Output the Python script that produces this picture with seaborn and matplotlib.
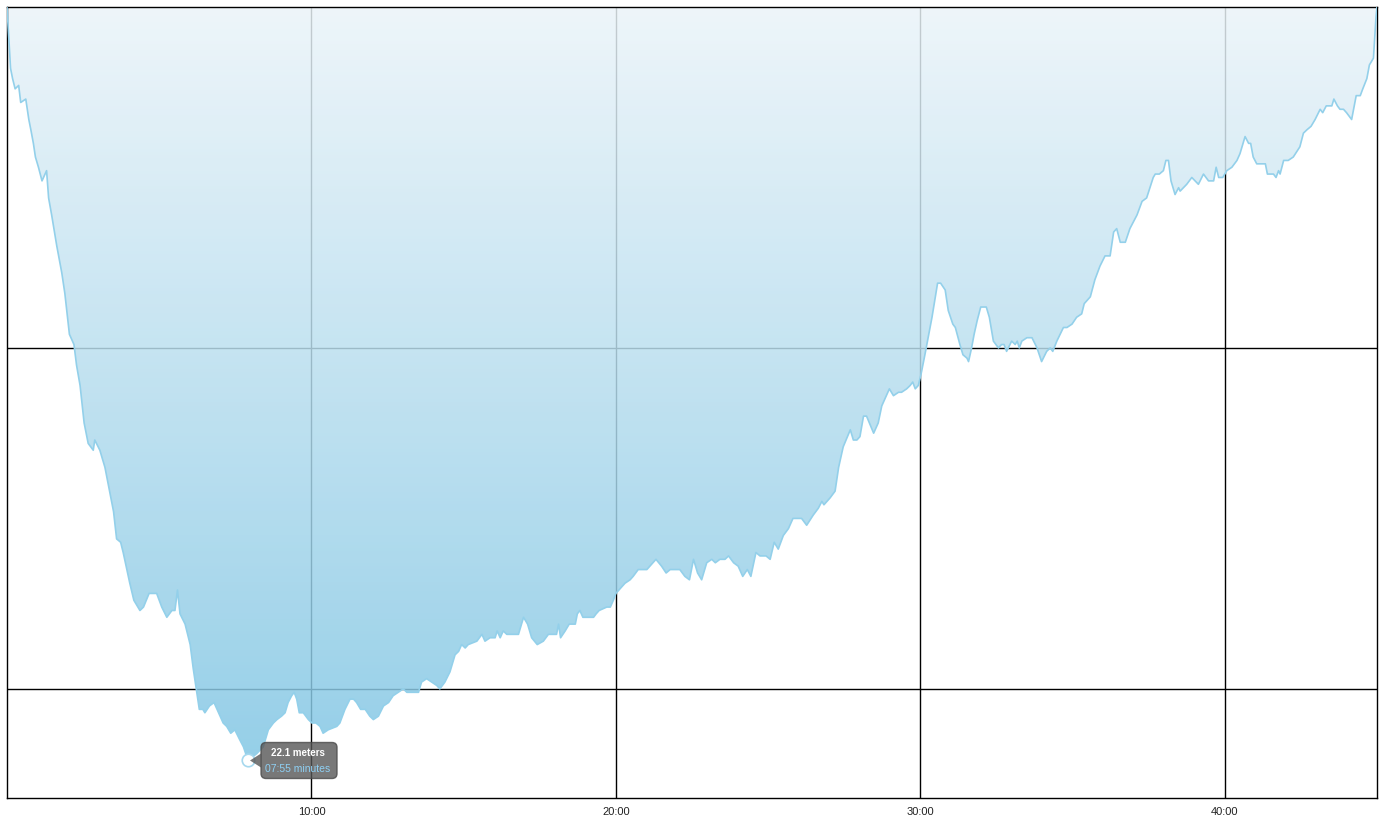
import numpy as np
import pandas as pd
import matplotlib
matplotlib.use("Agg")
import matplotlib.pyplot as plt
import seaborn as sns
from matplotlib.colors import LinearSegmentedColormap
from matplotlib.patches import FancyBboxPatch, Polygon
from matplotlib.ticker import FuncFormatter
from matplotlib.transforms import IdentityTransform

# dive profile: elapsed time (s) and depth (m)
time_s = [
    0, 7, 11, 16, 23, 27, 37, 43, 47, 52,
    56, 62, 69, 78, 82, 88, 98, 108, 114, 123,
    132, 137, 144, 152, 160, 170, 173, 183, 193, 210,
    216, 224, 229, 242, 250, 262, 269, 280, 288, 295,
    305, 315, 325, 331, 336, 341, 351, 361, 367, 374,
    379, 386, 390, 399, 408, 414, 426, 433, 441, 449,
    459, 466, 475, 492, 505, 515, 525, 532, 541, 548,
    554, 561, 566, 571, 576, 584, 594, 601, 609, 617,
    623, 633, 650, 656, 666, 676, 683, 689, 697, 706,
    715, 722, 732, 742, 752, 761, 771, 781, 788, 801,
    811, 817, 827, 837, 847, 853, 863, 873, 883, 890,
    896, 903, 909, 926, 936, 942, 952, 962, 966, 972,
    978, 985, 1008, 1018, 1026, 1034, 1045, 1057, 1067, 1083,
    1087, 1091, 1100, 1108, 1120, 1124, 1129, 1135, 1156, 1161,
    1167, 1182, 1189, 1195, 1200, 1212, 1218, 1228, 1234, 1244,
    1261, 1267, 1279, 1290, 1299, 1307, 1313, 1326, 1336, 1345,
    1353, 1361, 1369, 1379, 1389, 1396, 1405, 1415, 1422, 1432,
    1441, 1450, 1459, 1466, 1476, 1484, 1496, 1504, 1512, 1520,
    1530, 1540, 1549, 1566, 1576, 1589, 1599, 1606, 1610, 1622,
    1632, 1639, 1642, 1648, 1662, 1668, 1675, 1681, 1688, 1694,
    1708, 1717, 1724, 1739, 1747, 1757, 1763, 1773, 1780, 1785,
    1790, 1796, 1801, 1809, 1823, 1834, 1840, 1849, 1855, 1864,
    1869, 1878, 1884, 1892, 1895, 1901, 1906, 1912, 1919, 1930,
    1936, 1944, 1954, 1960, 1965, 1970, 1980, 1987, 1991, 1995,
    2000, 2010, 2020, 2030, 2039, 2049, 2056, 2061, 2069, 2082,
    2089, 2099, 2108, 2118, 2123, 2135, 2144, 2154, 2164, 2174,
    2181, 2187, 2194, 2204, 2213, 2227, 2237, 2246, 2259, 2263,
    2271, 2279, 2284, 2289, 2294, 2302, 2309, 2312, 2325, 2335,
    2348, 2358, 2368, 2378, 2383, 2388, 2396, 2404, 2414, 2424,
    2430, 2440, 2447, 2451, 2456, 2463, 2480, 2484, 2496, 2501,
    2506, 2509, 2516, 2525, 2535, 2548, 2555, 2562, 2570, 2578,
    2588, 2593, 2600, 2611, 2615, 2622, 2627, 2634, 2640, 2650,
    2659, 2667, 2672, 2680, 2685, 2693, 2696, 2698, 2700,
]
depth_m = [
    0.0, 1.8, 2.1, 2.4, 2.3, 2.8, 2.7, 3.3, 3.6, 4.0,
    4.4, 4.7, 5.1, 4.8, 5.6, 6.1, 7.0, 7.8, 8.4, 9.6,
    9.9, 10.5, 11.1, 12.2, 12.8, 13.0, 12.7, 13.0, 13.5, 14.8,
    15.6, 15.7, 16.0, 16.9, 17.4, 17.7, 17.6, 17.2, 17.2, 17.2,
    17.6, 17.9, 17.7, 17.7, 17.1, 17.8, 18.1, 18.7, 19.4, 20.1,
    20.6, 20.6, 20.7, 20.5, 20.4, 20.6, 21.0, 21.1, 21.3, 21.2,
    21.5, 21.7, 22.1, 21.9, 21.7, 21.2, 21.0, 20.9, 20.8, 20.7,
    20.4, 20.2, 20.1, 20.3, 20.7, 20.7, 20.9, 21.0, 21.0, 21.1,
    21.3, 21.2, 21.1, 21.0, 20.6, 20.3, 20.3, 20.4, 20.6, 20.6,
    20.8, 20.9, 20.8, 20.5, 20.4, 20.2, 20.1, 20.0, 20.1, 20.1,
    20.1, 19.8, 19.7, 19.8, 19.9, 20.0, 19.8, 19.5, 19.0, 18.9,
    18.7, 18.8, 18.7, 18.6, 18.4, 18.6, 18.5, 18.5, 18.3, 18.5,
    18.3, 18.4, 18.4, 17.9, 18.1, 18.5, 18.7, 18.6, 18.4, 18.4,
    18.1, 18.5, 18.3, 18.1, 18.1, 17.8, 17.7, 17.9, 17.9, 17.8,
    17.7, 17.6, 17.6, 17.4, 17.2, 17.0, 16.9, 16.8, 16.7, 16.5,
    16.5, 16.4, 16.2, 16.4, 16.6, 16.5, 16.5, 16.5, 16.7, 16.8,
    16.2, 16.6, 16.8, 16.3, 16.2, 16.3, 16.2, 16.2, 16.1, 16.3,
    16.4, 16.7, 16.5, 16.7, 16.0, 16.1, 16.1, 16.2, 15.7, 15.9,
    15.5, 15.3, 15.0, 15.0, 15.2, 14.9, 14.7, 14.5, 14.6, 14.4,
    14.2, 13.5, 13.3, 12.9, 12.4, 12.7, 12.7, 12.6, 12.0, 12.0,
    12.5, 12.2, 11.7, 11.2, 11.4, 11.3, 11.3, 11.2, 11.1, 11.0,
    11.2, 11.1, 10.8, 10.2, 9.1, 8.1, 8.1, 8.3, 8.9, 9.3,
    9.4, 9.9, 10.2, 10.3, 10.4, 10.0, 9.6, 9.2, 8.8, 8.8,
    9.1, 9.8, 10.0, 9.9, 9.9, 10.1, 9.8, 9.9, 9.8, 10.0,
    9.8, 9.7, 9.7, 10.0, 10.4, 10.1, 10.0, 10.1, 9.8, 9.4,
    9.4, 9.3, 9.1, 9.0, 8.7, 8.5, 8.0, 7.6, 7.3, 7.3,
    6.6, 6.5, 6.9, 6.9, 6.5, 6.1, 5.7, 5.6, 5.0, 4.9,
    4.9, 4.8, 4.5, 4.5, 5.1, 5.5, 5.3, 5.4, 5.2, 5.0,
    5.2, 4.9, 5.1, 5.1, 4.7, 5.0, 5.0, 4.8, 4.7, 4.5,
    4.3, 3.8, 4.0, 4.0, 4.4, 4.6, 4.6, 4.9, 4.9, 5.0,
    4.8, 4.9, 4.5, 4.5, 4.4, 4.1, 3.7, 3.6, 3.5, 3.3,
    3.0, 3.1, 2.9, 2.9, 2.7, 2.9, 3.0, 3.0, 3.1, 3.3,
    2.6, 2.6, 2.4, 2.1, 1.7, 1.5, 0.8, 0.3, 0.0,
]

x_ticks = [600, 1200, 1800, 2400]   # 10:00 .. 40:00
depth_grid = [10, 20]
t_max = 2700
depth_max_axis = 23.2

sns.set_style("white")
plt.rcParams['font.family'] = ['Liberation Sans', 'DejaVu Sans']

df = pd.DataFrame({'time': time_s, 'depth': depth_m})

fig = plt.figure(figsize=(13.85, 8.29), dpi=100)
ax = fig.add_axes([7 / 1385, 30 / 829, 1370 / 1385, 791 / 829])

# gradient fill between surface and profile, clipped to the profile
poly = ax.fill_between(df['time'], 0, df['depth'], facecolor='none', edgecolor='none')
grad = np.linspace(0, 1, 256).reshape(-1, 1)
cmap = LinearSegmentedColormap.from_list('dive', ['#ebf4f9', '#7cc4e3'])
img = ax.imshow(grad, cmap=cmap, aspect='auto', origin='upper',
                extent=(0, t_max, depth_max_axis, 0), alpha=0.84, zorder=2)
img.set_clip_path(poly.get_paths()[0], transform=ax.transData)

sns.lineplot(data=df, x='time', y='depth', color='#93d0ea', lw=1.2,
             estimator=None, ax=ax, zorder=3)

ax.set_xlim(0, t_max)
ax.set_ylim(depth_max_axis, 0)
ax.set_xticks(x_ticks)
ax.set_yticks(depth_grid)
ax.xaxis.set_major_formatter(FuncFormatter(lambda v, p: f"{int(v) // 60}:{int(v) % 60:02d}"))
ax.tick_params(axis='x', length=0, pad=6, labelsize=8, labelcolor='#222222')
ax.tick_params(axis='y', length=0, labelleft=False)
ax.set_xlabel('')
ax.set_ylabel('')
ax.grid(True, color='black', lw=1)
ax.set_axisbelow(True)
for s in ax.spines.values():
    s.set_color('black')
    s.set_linewidth(1)

# deepest point + tooltip
i_max = df['depth'].idxmax()
tm, dm = df.loc[i_max, 'time'], df.loc[i_max, 'depth']
ax.plot([tm], [dm], 'o', ms=9, mfc='white', mec='#a6d8ee', mew=1.2, zorder=4)

px, py = ax.transData.transform((tm, dm))
box = FancyBboxPatch((px + 13, py - 18), 76, 36,
                     boxstyle='round,pad=0,rounding_size=5',
                     transform=IdentityTransform(),
                     fc='#565656', ec='#4a4a4a', lw=1, alpha=0.8, zorder=5)
fig.add_artist(box)
tip = Polygon([(px + 2, py), (px + 13, py + 7), (px + 13, py - 7)], closed=True,
              transform=IdentityTransform(), fc='#565656', ec='none', alpha=0.8, zorder=5)
fig.add_artist(tip)

mins, secs = divmod(int(tm), 60)
fig.text(px + 50, py + 8, f"{dm:.1f} meters", transform=IdentityTransform(),
         ha='center', va='center', fontsize=7, fontweight='bold', color='white', zorder=6)
fig.text(px + 50, py - 8, f"{mins:02d}:{secs:02d} minutes", transform=IdentityTransform(),
         ha='center', va='center', fontsize=7.5, color='#8ed0f4', zorder=6)

fig.savefig('out.png', dpi=100)
